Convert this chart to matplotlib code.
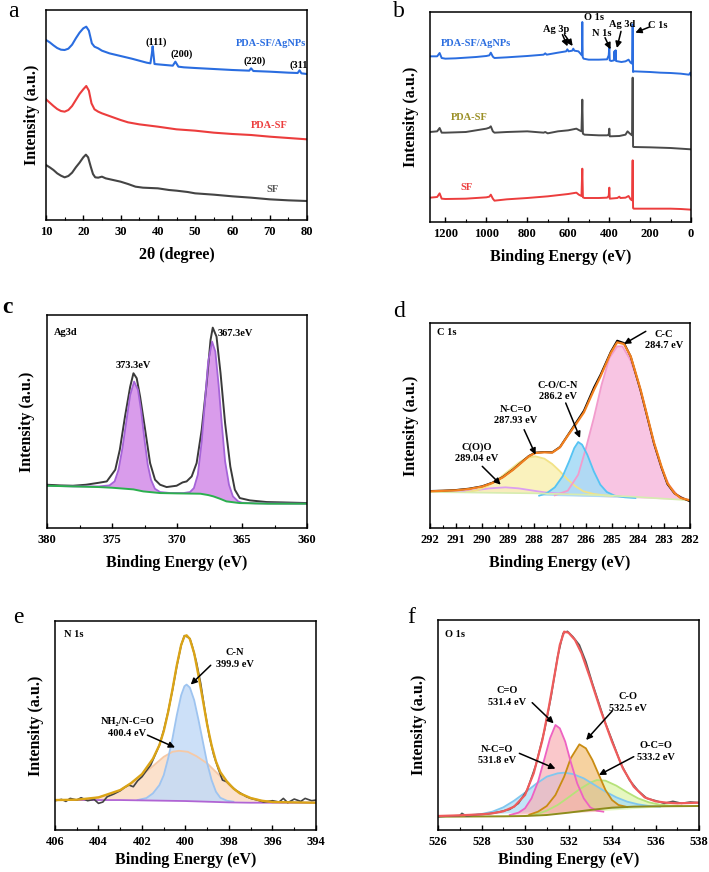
import numpy as np
import matplotlib
matplotlib.use("Agg")
import matplotlib.pyplot as plt
from matplotlib.ticker import MultipleLocator

plt.rcParams['font.family'] = ['Liberation Serif', 'DejaVu Serif']
plt.rcParams['font.weight'] = 'bold'
plt.rcParams['axes.labelweight'] = 'bold'
plt.rcParams['axes.linewidth'] = 1.1

# ---------------- data (y in arbitrary units) ----------------
# a: XRD
a_sf = [(10, 165), (11, 158), (12, 150), (13, 140), (14, 133), (15, 128), (16, 132), (17, 142), (18, 158),
        (19, 172), (20, 188), (20.7, 196), (21.3, 188), (22, 160), (22.6, 138), (23.2, 128), (24, 127),
        (25, 130), (26, 125), (28, 120), (30, 115), (32, 108), (34, 100), (36, 97), (40, 95), (43, 90),
        (45, 88), (48, 84), (50, 80), (55, 76), (60, 71), (65, 67), (70, 62), (75, 59), (80, 57)]
a_pda = [(10, 362), (11, 352), (12, 342), (13, 333), (14, 327), (15, 325), (16, 330), (17, 342), (18, 360),
         (19, 378), (20, 392), (20.8, 402), (21.5, 388), (22.2, 350), (23, 332), (24, 325), (25, 320),
         (27, 312), (30, 300), (32, 293), (35, 287), (40, 280), (45, 272), (50, 268), (55, 262), (60, 258),
         (65, 255), (70, 250), (75, 246), (80, 242)]
a_ag = [(10, 540), (11, 533), (12, 524), (13, 516), (14, 511), (15, 510), (16, 514), (17, 526), (18, 545),
        (19, 562), (20, 575), (20.8, 580), (21.5, 568), (22.3, 530), (23, 520), (24, 515), (25, 508),
        (27, 500), (30, 492), (33, 484), (35, 478), (37, 472), (38, 470), (38.4, 500), (38.6, 521),
        (38.8, 500), (39.1, 468), (40, 467), (42, 465), (44, 463), (44.7, 475), (45.5, 460), (47, 458),
        (50, 456), (55, 453), (60, 450), (64.5, 448), (65, 455), (65.6, 447), (70, 445), (75, 442),
        (77.5, 441), (78, 449), (78.5, 440), (80, 438)]

# b: XPS survey
b_ag = [(1275, 497), (1240, 497), (1228, 507), (1218, 492), (1200, 490), (1150, 491), (1100, 493),
        (1050, 495), (1000, 498), (985, 500), (978, 508), (968, 496), (960, 492), (900, 494), (850, 496),
        (800, 498), (720, 502), (712, 506), (705, 502), (650, 508), (610, 512), (604, 518), (598, 512),
        (580, 514), (575, 520), (570, 514), (550, 512), (540, 505), (533, 500), (531, 600), (529, 495),
        (525, 490), (500, 487), (450, 487), (410, 488), (402, 500), (399, 525), (397, 485), (390, 483),
        (376, 485), (374, 512), (372, 490), (370, 488), (368, 515), (366, 483), (340, 480), (320, 482),
        (305, 487), (295, 478), (288, 475), (285, 593), (283, 450), (280, 452), (200, 450), (150, 448),
        (100, 447), (50, 445), (10, 442), (3, 448), (0, 440)]
b_pda = [(1275, 270), (1240, 272), (1228, 282), (1218, 268), (1200, 268), (1100, 270), (1000, 280),
         (985, 283), (978, 287), (968, 272), (960, 268), (900, 270), (800, 272), (720, 268), (712, 270),
         (700, 266), (650, 272), (600, 275), (560, 280), (545, 275), (535, 272), (531, 367), (528, 265),
         (520, 262), (450, 260), (410, 260), (402, 262), (399, 280), (397, 257), (350, 258), (320, 262),
         (310, 272), (300, 266), (292, 262), (288, 260), (285, 433), (283, 226), (280, 225), (200, 224),
         (100, 222), (50, 220), (0, 218)]
b_sf = [(1275, 73), (1240, 75), (1228, 86), (1218, 70), (1200, 69), (1100, 70), (1000, 74), (985, 76),
        (978, 82), (968, 70), (960, 64), (900, 68), (800, 72), (700, 77), (600, 84), (560, 88), (548, 82),
        (535, 78), (531, 160), (528, 74), (520, 72), (450, 72), (410, 73), (402, 78), (399, 103), (397, 70),
        (360, 72), (350, 76), (345, 72), (320, 73), (305, 78), (295, 68), (288, 65), (285, 185), (283, 42),
        (280, 40), (200, 40), (100, 40), (50, 39), (0, 37)]

# c: Ag 3d
c_raw = [(380, 130), (379, 128), (378, 127), (377, 130), (376.5, 133), (376, 136), (375.4, 140),
         (374.75, 175), (374.4, 235), (374.0, 335), (373.6, 425), (373.35, 465), (373.1, 450),
         (372.84, 395), (372.45, 295), (372.07, 195), (371.69, 145), (371.3, 130), (370.8, 123),
         (370.03, 127), (369.57, 137), (369.26, 140), (368.87, 155), (368.49, 195), (368.1, 295),
         (367.72, 435), (367.42, 565), (367.25, 602), (366.96, 575), (366.65, 465), (366.3, 315),
         (365.9, 185), (365.55, 115), (365.17, 90), (364.4, 83), (363.1, 78), (362, 77), (361, 76), (360, 75)]
c_fit = [(380, 127), (378, 125), (376, 125), (375.2, 128), (374.8, 140), (374.5, 175), (374.2, 240),
         (373.9, 320), (373.6, 400), (373.3, 440), (373.0, 415), (372.75, 350), (372.5, 265), (372.25, 190),
         (372, 145), (371.7, 118), (371.3, 108), (370.5, 105), (369.5, 105), (369, 108), (368.7, 120),
         (368.4, 160), (368.1, 260), (367.85, 380), (367.6, 500), (367.3, 560), (367.05, 530), (366.8, 430),
         (366.55, 310), (366.3, 200), (366, 130), (365.7, 95), (365.3, 80), (365, 76), (364, 74), (360, 73)]
c_bg = [(380, 127), (378, 125), (376, 123), (375, 121), (374, 118), (373.35, 116), (372.6, 110),
        (371.3, 105), (370, 104), (368.2, 103), (367.6, 99), (367.2, 95), (366.7, 88), (366.2, 80),
        (365.2, 75), (363, 73), (360, 73)]

# d: C 1s
d_raw = [(292, 111), (291.5, 112), (291, 114), (290.5, 118), (290, 125), (289.6, 136), (289.2, 153),
         (288.8, 176), (288.5, 196), (288.2, 216), (287.95, 226), (287.6, 228), (287.3, 227), (287.0, 243),
         (286.72, 276), (286.4, 314), (286.08, 352), (285.69, 422), (285.44, 460), (285.05, 528),
         (284.8, 562), (284.54, 555), (284.28, 514), (283.9, 412), (283.64, 332), (283.38, 252),
         (283.1, 182), (282.87, 132), (282.6, 104), (282.36, 92), (282, 80)]
d_fit = [(292, 110), (291, 113), (290.5, 117), (290, 124), (289.6, 135), (289.2, 152), (288.8, 175),
         (288.5, 195), (288.2, 215), (287.95, 225), (287.6, 227), (287.3, 226), (287.0, 242), (286.72, 275),
         (286.4, 310), (286.08, 347), (285.69, 415), (285.44, 455), (285.05, 525), (284.8, 557),
         (284.54, 552), (284.28, 515), (283.9, 415), (283.64, 335), (283.38, 255), (283.1, 185),
         (282.87, 135), (282.6, 105), (282.36, 90), (282, 83)]
d_cc = [(287.2, 98), (286.7, 112), (286.3, 160), (286.0, 240), (285.7, 330), (285.4, 430), (285.1, 510),
        (284.8, 545), (284.6, 545), (284.3, 505), (284.0, 440), (283.7, 350), (283.4, 255), (283.1, 180),
        (282.8, 128), (282.5, 100), (282.2, 87), (282.0, 83)]
d_co = [(287.8, 97), (287.5, 105), (287.2, 122), (286.9, 155), (286.65, 200), (286.45, 240), (286.3, 258),
        (286.15, 250), (285.95, 220), (285.7, 170), (285.45, 130), (285.2, 108), (284.9, 97), (284.5, 92),
        (284.1, 90)]
d_nco = [(290.6, 108), (290.2, 113), (289.8, 125), (289.4, 145), (289.0, 170), (288.6, 195), (288.3, 210),
         (287.95, 215), (287.6, 208), (287.3, 192), (287.0, 170), (286.7, 145), (286.4, 125), (286.1, 110),
         (285.7, 102), (285.3, 98), (285.0, 96)]
d_coo = [(291.2, 108), (290.7, 110), (290.2, 114), (289.7, 119), (289.1, 122), (288.6, 119), (288.1, 113),
         (287.6, 107), (287.1, 104), (286.7, 102)]
d_bg = [(292, 108), (291, 107), (290, 106), (289, 105), (288, 104), (287, 102), (286, 100), (285, 97),
        (284, 93), (283, 88), (282, 83)]

# e: N 1s
e_raw = [(406, 88), (405.7, 92), (405.5, 86), (405.3, 95), (405.0, 90), (404.8, 97), (404.5, 88),
         (404.2, 92), (404.0, 80), (403.8, 84), (403.6, 100), (403.3, 108), (403.0, 118), (402.8, 128),
         (402.6, 135), (402.4, 130), (402.2, 148), (402.0, 160), (401.8, 178), (401.6, 195), (401.4, 225),
         (401.2, 255), (401.0, 300), (400.8, 355), (400.6, 420), (400.4, 492), (400.2, 555), (400.05, 584),
         (399.9, 580), (399.8, 575), (399.7, 555), (399.5, 505), (399.3, 440), (399.1, 355), (398.9, 280),
         (398.7, 225), (398.5, 185), (398.3, 150), (398.1, 145), (397.9, 132), (397.7, 120), (397.5, 112),
         (397.2, 100), (397.0, 95), (396.7, 90), (396.4, 84), (396.0, 88), (395.7, 84), (395.5, 95),
         (395.3, 82), (395.0, 93), (394.7, 86), (394.5, 95), (394.2, 88), (394.0, 90)]
e_fit = [(406, 90), (405, 91), (404, 98), (403, 120), (402.5, 141), (402, 168), (401.5, 214), (401.2, 255),
         (401, 297), (400.8, 354), (400.6, 422), (400.4, 495), (400.2, 556), (400.05, 582), (399.95, 585),
         (399.8, 574), (399.6, 531), (399.4, 463), (399.2, 390), (399, 315), (398.8, 254), (398.6, 206),
         (398.4, 174), (398.1, 146), (397.8, 125), (397.5, 110), (397, 96), (396.5, 88), (396, 84),
         (395, 83), (394, 82)]
e_cn = [(402.2, 90), (401.8, 96), (401.5, 110), (401.2, 135), (401.0, 165), (400.8, 215), (400.6, 275),
        (400.4, 345), (400.2, 405), (400.05, 432), (399.95, 437), (399.8, 428), (399.6, 390), (399.4, 330),
        (399.2, 265), (399.0, 200), (398.8, 150), (398.6, 115), (398.4, 97), (398.1, 88), (397.8, 85)]
e_nh2 = [(404.5, 93), (404, 98), (403.5, 107), (403, 120), (402.5, 140), (402, 165), (401.5, 192),
         (401, 220), (400.6, 235), (400.3, 238), (399.9, 235), (399.5, 222), (399, 200), (398.5, 168),
         (398, 135), (397.5, 110), (397, 96), (396.5, 88), (396, 84), (395.5, 83)]
e_bg = [(406, 90), (403, 90), (402, 89), (401, 88), (400, 87), (399, 85), (398, 83), (397, 82), (394, 82)]

# f: O 1s
f_raw = [(526, 40), (526.5, 42), (527, 43), (527.1, 50), (527.3, 42), (527.8, 46), (528.3, 48), (528.8, 54),
         (529.3, 62), (529.7, 80), (530.1, 120), (530.5, 195), (530.9, 300), (531.2, 400), (531.5, 520),
         (531.75, 590), (531.95, 596), (532.2, 580), (532.5, 555), (532.8, 505), (533.1, 440), (533.4, 380),
         (533.7, 320), (534, 270), (534.4, 200), (534.8, 150), (535.2, 118), (535.6, 95), (536, 88),
         (536.4, 80), (536.8, 86), (537.2, 80), (537.6, 84), (538, 82)]
f_fit = [(526, 42), (527, 44), (528, 47), (528.5, 50), (529, 56), (529.5, 70), (530, 105), (530.4, 170),
         (530.8, 270), (531.1, 370), (531.4, 480), (531.6, 555), (531.8, 595), (532, 592), (532.3, 570),
         (532.6, 530), (533, 455), (533.5, 355), (534, 265), (534.5, 185), (535, 130), (535.5, 98),
         (536, 86), (536.5, 82), (537, 80), (538, 82)]
f_c_o_double = [(529.3, 45), (529.7, 52), (530, 65), (530.3, 95), (530.6, 145), (530.9, 215), (531.15, 275),
                (531.4, 315), (531.6, 305), (531.85, 265), (532.1, 205), (532.4, 140), (532.7, 95), (533, 68),
                (533.3, 58), (533.6, 55)]
f_c_o_single = [(530.2, 46), (530.6, 55), (531, 72), (531.4, 105), (531.8, 160), (532.1, 215), (532.5, 257),
                (532.8, 245), (533.1, 210), (533.4, 165), (533.7, 120), (534, 90), (534.3, 75), (534.7, 69)]
f_nco = [(527.5, 45), (528, 48), (528.5, 55), (529, 68), (529.5, 88), (530, 112), (530.5, 138), (531, 160),
         (531.5, 170), (531.8, 172), (532.2, 168), (532.7, 155), (533.2, 135), (533.7, 115), (534.2, 98),
         (534.7, 85), (535.2, 77), (535.7, 72), (536.2, 70)]
f_oco = [(530, 42), (530.5, 47), (531, 58), (531.5, 75), (532, 98), (532.5, 122), (533, 142), (533.3, 150),
         (533.7, 148), (534.2, 133), (534.7, 113), (535.2, 95), (535.7, 83), (536.2, 76), (536.7, 73),
         (537.2, 72)]
f_bg = [(526, 40), (529, 41), (530, 42), (531, 45), (532, 52), (533, 60), (534, 67), (535, 70), (536, 71), (538, 72)]


def xy(pts):
    arr = np.array(pts, dtype=float)
    return arr[:, 0], arr[:, 1]


def style(ax, xlim, ylim, major, minor, xlabel, ylab_x, lpad=7):
    ax.set_xlim(*xlim)
    ax.set_ylim(*ylim)
    ax.set_yticks([])
    ax.xaxis.set_major_locator(MultipleLocator(major))
    ax.xaxis.set_minor_locator(MultipleLocator(minor))
    ax.tick_params(axis='x', which='major', direction='in', length=3.5, width=1, labelsize=9, pad=4)
    ax.tick_params(axis='x', which='minor', direction='in', length=2, width=0.8)
    ax.set_xlabel(xlabel, fontsize=11.5, labelpad=lpad)
    ax.set_ylabel('Intensity (a.u.)', fontsize=11.5)
    ax.yaxis.set_label_coords(ylab_x, 0.5)


def arrow(ax, tail, head):
    ax.annotate('', xy=head, xytext=tail,
                arrowprops=dict(arrowstyle='-|>', color='black', lw=1.1, mutation_scale=9,
                                shrinkA=0, shrinkB=0))


fig = plt.figure(figsize=(7.09, 8.72), dpi=100)
W, H = 709, 872


def add_ax(left, top, right, bottom):
    return fig.add_axes([left / W, 1 - bottom / H, (right - left) / W, (bottom - top) / H])


blue = '#2a6de0'
red = '#ec3d3d'
grey = '#444444'
tsize = 7.5

# ---------------- a ----------------
ax = add_ax(46, 10, 307, 220)
for pts, col in [(a_sf, grey), (a_pda, red), (a_ag, blue)]:
    x, y = xy(pts)
    ax.plot(x, y, color=col, lw=1.5)
style(ax, (10, 80), (0, 630), 10, 5, '2θ (degree)', -0.024)
ax.text(70.4, 530, 'PDA-SF/AgNPs', color=blue, ha='center', va='center', fontsize=tsize)
ax.text(69.8, 284, 'PDA-SF', color=red, ha='center', va='center', fontsize=tsize)
ax.text(70.7, 93, 'SF', color='#555555', ha='center', va='center', fontsize=tsize)
ax.text(39.5, 532, '(111)', ha='center', va='center', fontsize=tsize)
ax.text(46.4, 498, '(200)', ha='center', va='center', fontsize=tsize)
ax.text(66, 475, '(220)', ha='center', va='center', fontsize=tsize)
ax.text(75.2, 463, '(311)', ha='left', va='center', fontsize=tsize, clip_on=True)

# ---------------- b ----------------
ax = add_ax(430, 12, 691, 222)
for pts, col in [(b_sf, red), (b_pda, '#4a4a4a'), (b_ag, blue)]:
    x, y = xy(pts)
    ax.plot(x, y, color=col, lw=1.4)
style(ax, (1275, 0), (0, 630), 200, 100, 'Binding Energy (eV)', -0.042)
ax.text(1050, 537, 'PDA-SF/AgNPs', color=blue, ha='center', va='center', fontsize=tsize)
ax.text(1083, 313, 'PDA-SF', color='#9a8f25', ha='center', va='center', fontsize=tsize)
ax.text(1099, 105, 'SF', color=red, ha='center', va='center', fontsize=tsize)
ax.text(660, 577, 'Ag 3p', ha='center', va='center', fontsize=tsize)
ax.text(475, 613, 'O 1s', ha='center', va='center', fontsize=tsize)
ax.text(436, 567, 'N 1s', ha='center', va='center', fontsize=tsize)
ax.text(337, 593, 'Ag 3d', ha='center', va='center', fontsize=tsize)
ax.text(162, 590, 'C 1s', ha='center', va='center', fontsize=tsize)
arrow(ax, (628, 562), (603, 527))
arrow(ax, (618, 562), (578, 528))
arrow(ax, (420, 553), (393, 518))
arrow(ax, (342, 572), (362, 522))
arrow(ax, (203, 585), (272, 568))

# ---------------- c ----------------
ax = add_ax(47, 315, 307, 528)
fx, fy = xy(c_fit)
bx, by = xy(c_bg)
ax.fill(np.concatenate([fx, bx[::-1]]), np.concatenate([fy, by[::-1]]), color='#d99ceb', lw=0)
x, y = xy(c_raw)
ax.plot(x, y, color='#3a3a3a', lw=1.4)
ax.plot(fx, fy, color='#a564d8', lw=1.3)
ax.plot(bx, by, color='#2bb04e', lw=1.4)
style(ax, (380, 360), (0, 640), 5, 2.5, 'Binding Energy (eV)', -0.045)
ax.text(379.5, 588, 'Ag3d', ha='left', va='center', fontsize=tsize)
ax.text(373.35, 487, '373.3eV', ha='center', va='center', fontsize=tsize)
ax.text(365.5, 583, '367.3eV', ha='center', va='center', fontsize=tsize)

# ---------------- d ----------------
ax = add_ax(430, 323, 690, 528)
for pts, fc, lc in [(d_coo, '#ebbdf3', '#dc9ff0'), (d_nco, '#faf1b6', '#f2e287'),
                    (d_cc, '#f8bfe0', '#f29ccd'), (d_co, '#a8dcf7', '#55c3f3')]:
    x, y = xy(pts)
    ax.fill(x, y, color=fc, lw=0, alpha=0.9)
    ax.plot(x, y, color=lc, lw=1.3)
x, y = xy(d_bg)
ax.plot(x, y, color='#d6ecb0', lw=1.2)
x, y = xy(d_raw)
ax.plot(x, y, color='black', lw=1.4)
x, y = xy(d_fit)
ax.plot(x, y, color='#f2801f', lw=1.6)
style(ax, (292, 282), (0, 615), 1, 0.5, 'Binding Energy (eV)', -0.044)
ax.text(291.72, 588, 'C 1s', ha='left', va='center', fontsize=tsize)
ax.text(283.0, 565, 'C-C\n284.7 eV', ha='center', va='center', fontsize=tsize, linespacing=1.3)
ax.text(287.08, 410, 'C-O/C-N\n286.2 eV', ha='center', va='center', fontsize=tsize, linespacing=1.3)
ax.text(288.7, 338, 'N-C=O\n287.93 eV', ha='center', va='center', fontsize=tsize, linespacing=1.3)
ax.text(290.2, 226, 'C(O)O\n289.04 eV', ha='center', va='center', fontsize=tsize, linespacing=1.3)
arrow(ax, (283.7, 590), (284.54, 552))
arrow(ax, (286.78, 375), (286.23, 270))
arrow(ax, (288.38, 295), (287.94, 220))
arrow(ax, (289.99, 185), (289.28, 130))

# ---------------- e ----------------
ax = add_ax(55, 621, 316, 830)
for pts, fc, lc in [(e_nh2, '#fbdcc4', '#f6c9a6'), (e_cn, '#c3dbf7', '#9ec4f0')]:
    x, y = xy(pts)
    ax.fill(x, y, color=fc, lw=0, alpha=0.85)
    ax.plot(x, y, color=lc, lw=1.3)
x, y = xy(e_bg)
ax.plot(x, y, color='#b064d4', lw=1.3)
x, y = xy(e_raw)
ax.plot(x, y, color='#444444', lw=1.2)
x, y = xy(e_fit)
ax.plot(x, y, color='#dba416', lw=1.7)
style(ax, (406, 394), (0, 628), 2, 1, 'Binding Energy (eV)', -0.044, lpad=3)
ax.text(405.6, 588, 'N 1s', ha='left', va='center', fontsize=tsize)
ax.text(397.72, 515, 'C-N\n399.9 eV', ha='center', va='center', fontsize=tsize, linespacing=1.4)
ax.text(402.67, 308, 'NH₂/N-C=O\n400.4 eV', ha='center', va='center', fontsize=tsize, linespacing=1.4)
arrow(ax, (398.84, 495), (399.76, 437))
arrow(ax, (401.75, 285), (400.48, 248))

# ---------------- f ----------------
ax = add_ax(438, 620, 699, 830)
for pts, fc, lc in [(f_oco, '#dcf5a6', '#b6e27a'), (f_nco, '#a7dbf6', '#80c7ef'),
                    (f_c_o_single, '#f3bf78', '#c98c12'), (f_c_o_double, '#f8b1b6', '#ee62c2')]:
    x, y = xy(pts)
    ax.fill(x, y, color=fc, lw=0, alpha=0.7)
    ax.plot(x, y, color=lc, lw=1.3)
x, y = xy(f_bg)
ax.plot(x, y, color='#8e8c1c', lw=1.4)
x, y = xy(f_raw)
ax.plot(x, y, color='#555555', lw=1.2)
x, y = xy(f_fit)
ax.plot(x, y, color='#ef5b5b', lw=1.6)
style(ax, (526, 538), (0, 630), 2, 1, 'Binding Energy (eV)', -0.044, lpad=3)
ax.text(526.34, 587, 'O 1s', ha='left', va='center', fontsize=tsize)
ax.text(529.18, 400, 'C=O\n531.4 eV', ha='center', va='center', fontsize=tsize, linespacing=1.4)
ax.text(534.75, 382, 'C-O\n532.5 eV', ha='center', va='center', fontsize=tsize, linespacing=1.4)
ax.text(528.72, 225, 'N-C=O\n531.8 eV', ha='center', va='center', fontsize=tsize, linespacing=1.4)
ax.text(536.0, 235, 'O-C=O\n533.2 eV', ha='center', va='center', fontsize=tsize, linespacing=1.4)
arrow(ax, (530.33, 382), (531.32, 320))
arrow(ax, (534.01, 357), (532.81, 270))
arrow(ax, (529.74, 230), (531.4, 184))
arrow(ax, (535.0, 220), (533.4, 165))

# panel letters
for lab, px, py, wt in [('a', 8, 17, 'normal'), ('b', 393, 17, 'normal'), ('c', 2, 313, 'bold'),
                        ('d', 393, 317, 'normal'), ('e', 13, 623, 'normal'), ('f', 407, 623, 'normal')]:
    fig.text(px / W, 1 - py / H, lab, fontsize=17, fontweight=wt, ha='left', va='baseline')

fig.savefig('out.png', dpi=100)
